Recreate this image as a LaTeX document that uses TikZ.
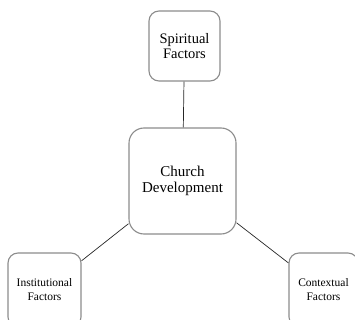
\documentclass[tikz,border=0pt]{standalone}
\usepackage{fontspec}
\setmainfont{Liberation Serif}
\begin{document}
\begin{tikzpicture}[x=1pt,y=-1pt,
  box/.style={draw=black!45, line width=1.1pt, fill=white, align=center, inner sep=0pt},
  link/.style={draw=black!85, line width=0.7pt}]
\useasboundingbox (0,0) rectangle (355,320);
\clip (0,0) rectangle (355,320);
\node[box, rounded corners=10pt, minimum width=71pt, minimum height=70pt,
  font=\fontsize{14.5}{15}\selectfont] (sp) at (184.5,46) {Spiritual\\Factors};
\node[box, rounded corners=15pt, minimum width=107pt, minimum height=106pt,
  font=\fontsize{15}{15.5}\selectfont] (ch) at (182.5,181) {Church\\Development};
\node[box, rounded corners=10pt, minimum width=73pt, minimum height=74pt,
  font=\fontsize{11.5}{14}\selectfont] (in) at (44.5,290) {Institutional\\Factors};
\node[box, rounded corners=10pt, minimum width=69pt, minimum height=74pt,
  font=\fontsize{11.5}{14}\selectfont] (co) at (323.5,290) {Contextual\\Factors};
\draw[link] (sp) -- (ch);
\draw[link] (ch) -- (in);
\draw[link] (ch) -- (co);
\end{tikzpicture}
\end{document}
